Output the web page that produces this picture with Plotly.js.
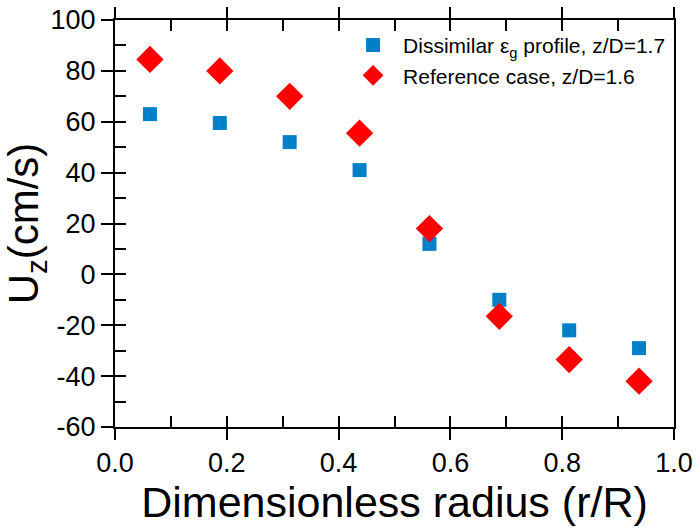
<!DOCTYPE html>
<html>
<head>
<meta charset="utf-8">
<script src="https://cdn.plot.ly/plotly-3.0.1.min.js"></script>
<style>html,body{margin:0;padding:0;background:#fff;}#chart{width:696px;height:531px;}</style>
</head>
<body>
<div id="chart"></div>
<script>
const radius = [0.0625, 0.1875, 0.3125, 0.4375, 0.5625, 0.6875, 0.8125, 0.9375];
const dissimilarUz = [63, 59.5, 52, 41, 12, -10, -22, -29];
const referenceUz = [84.5, 80, 70, 55.5, 18, -16.5, -33.5, -42];
const seriesNames = ["Dissimilar \u03b5<sub>g</sub> profile, z/D=1.7", "Reference case, z/D=1.6"];
const xTitle = "Dimensionless radius (r/R)";
const yTitle = "U<sub>z</sub>(cm/s)";
const xTickVals = [0, 0.2, 0.4, 0.6, 0.8, 1.0];
const xTickText = ["0.0", "0.2", "0.4", "0.6", "0.8", "1.0"];
const yTickVals = [-60, -40, -20, 0, 20, 40, 60, 80, 100];
const yTickText = ["-60", "-40", "-20", "0", "20", "40", "60", "80", "100"];

const FONT = "Liberation Sans, Arial, sans-serif";
const traces = [
  {x: radius, y: dissimilarUz, type: "scatter", mode: "markers", name: seriesNames[0],
   marker: {symbol: "square", size: 14, color: "#0080C8"}},
  {x: radius, y: referenceUz, type: "scatter", mode: "markers", name: seriesNames[1],
   marker: {symbol: "diamond", size: 21, color: "#FF0000"}},
  {x: [null], y: [null], xaxis: "x2", yaxis: "y2", showlegend: false, hoverinfo: "skip", type: "scatter", mode: "markers"}
];
const common = {showgrid: false, zeroline: false, linecolor: "#000", linewidth: 2, tickcolor: "#000", tickwidth: 2};
const layout = {
  width: 696, height: 531,
  margin: {l: 115, r: 22, t: 20, b: 104, pad: 0},
  paper_bgcolor: "#fff", plot_bgcolor: "#fff",
  font: {family: FONT, color: "#000"},
  showlegend: true,
  legend: {x: 0.408, xanchor: "left", y: 0.988, yanchor: "top", bgcolor: "rgba(0,0,0,0)",
           font: {family: FONT, size: 21, color: "#000"}, itemwidth: 50, tracegroupgap: 0},
  xaxis: Object.assign({}, common, {range: [0, 1], tickmode: "array", tickvals: xTickVals, ticktext: xTickText,
    ticks: "outside", ticklen: 11, showline: true, mirror: "ticks",
    tickfont: {family: FONT, size: 27, color: "#000"},
    title: {text: xTitle, font: {family: FONT, size: 43, color: "#000"}, standoff: 8}}),
  xaxis2: Object.assign({}, common, {range: [0, 1], dtick: 0.1, tick0: 0, ticks: "inside", ticklen: 11,
    overlaying: "x", anchor: "y2", side: "bottom", showline: false, mirror: "ticks", showticklabels: false}),
  yaxis: Object.assign({}, common, {range: [-60, 100], tickmode: "array", tickvals: yTickVals, ticktext: yTickText,
    ticks: "outside", ticklen: 12, showline: true, mirror: true,
    tickfont: {family: FONT, size: 27, color: "#000"},
    title: {text: yTitle, font: {family: FONT, size: 42, color: "#000"}, standoff: 4}}),
  yaxis2: Object.assign({}, common, {range: [-60, 100], dtick: 10, tick0: 0, ticks: "inside", ticklen: 11,
    overlaying: "y", anchor: "x2", side: "left", showline: false, showticklabels: false})
};
Plotly.newPlot("chart", traces, layout, {displayModeBar: false, staticPlot: true});
</script>
</body>
</html>
